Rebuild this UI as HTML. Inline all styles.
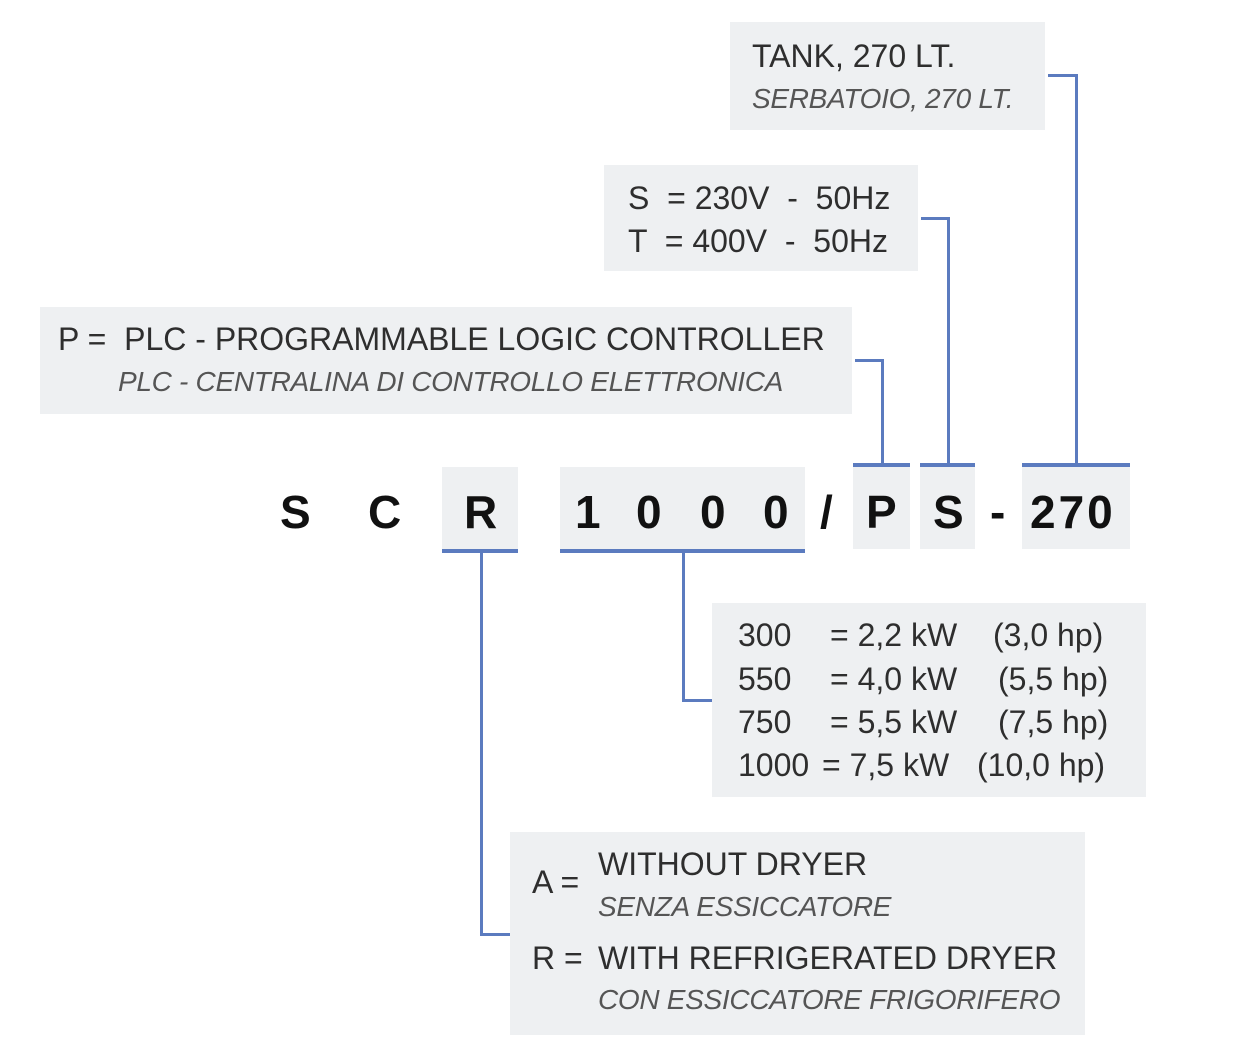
<!DOCTYPE html>
<html><head><meta charset="utf-8"><style>
body{margin:0;width:1260px;height:1060px;background:#fff;position:relative;overflow:hidden;font-family:"Liberation Sans",sans-serif;}
.b{position:absolute;background:#eef0f2;}
.t{position:absolute;white-space:pre;color:#2e2e2e;font-size:32px;letter-spacing:0;line-height:1;}
.i{font-style:italic;color:#555;font-size:28px;letter-spacing:-0.3px;}
.L{position:absolute;background:#5b7bbf;}
.big{position:absolute;font-size:46px;color:#111;line-height:1;font-weight:bold;letter-spacing:1px;}
</style></head><body>
<div class="b" style="left:730px;top:22px;width:315px;height:108px"></div>
<div class="b" style="left:604px;top:165px;width:314px;height:106px"></div>
<div class="b" style="left:40px;top:307px;width:812px;height:107px"></div>
<div class="b" style="left:442px;top:467px;width:76px;height:82px"></div>
<div class="b" style="left:560px;top:467px;width:245px;height:82px"></div>
<div class="b" style="left:853px;top:467px;width:57px;height:82px"></div>
<div class="b" style="left:920px;top:467px;width:55px;height:82px"></div>
<div class="b" style="left:1022px;top:467px;width:108px;height:82px"></div>
<div class="b" style="left:712px;top:603px;width:434px;height:194px"></div>
<div class="b" style="left:510px;top:832px;width:575px;height:203px"></div>
<div class="L" style="left:1048px;top:74px;width:30px;height:3px"></div>
<div class="L" style="left:1075px;top:74px;width:3px;height:392px"></div>
<div class="L" style="left:921px;top:217px;width:29px;height:3px"></div>
<div class="L" style="left:947px;top:217px;width:3px;height:249px"></div>
<div class="L" style="left:855px;top:359px;width:29px;height:3px"></div>
<div class="L" style="left:881px;top:359px;width:3px;height:107px"></div>
<div class="L" style="left:853px;top:463px;width:57px;height:4px"></div>
<div class="L" style="left:920px;top:463px;width:55px;height:4px"></div>
<div class="L" style="left:1022px;top:463px;width:108px;height:4px"></div>
<div class="L" style="left:442px;top:549px;width:76px;height:4px"></div>
<div class="L" style="left:560px;top:549px;width:245px;height:4px"></div>
<div class="L" style="left:480px;top:552px;width:3px;height:384px"></div>
<div class="L" style="left:480px;top:933px;width:30px;height:3px"></div>
<div class="L" style="left:682px;top:552px;width:3px;height:150px"></div>
<div class="L" style="left:682px;top:699px;width:30px;height:3px"></div>
<div class="t" style="left:752px;top:40px">TANK, 270 LT.</div>
<div class="t i" style="left:752px;top:85px">SERBATOIO, 270 LT.</div>
<div class="t" style="left:628px;top:182px">S  = 230V  -  50Hz</div>
<div class="t" style="left:628px;top:225px">T  = 400V  -  50Hz</div>
<div class="t" style="left:58px;top:323px">P =  PLC - PROGRAMMABLE LOGIC CONTROLLER</div>
<div class="t i" style="left:118px;top:368px">PLC - CENTRALINA DI CONTROLLO ELETTRONICA</div>
<div class="big" style="left:280px;top:489px">S</div>
<div class="big" style="left:368px;top:489px">C</div>
<div class="big" style="left:464px;top:489px">R</div>
<div class="big" style="left:575px;top:489px">1</div>
<div class="big" style="left:636px;top:489px">0</div>
<div class="big" style="left:700px;top:489px">0</div>
<div class="big" style="left:763px;top:489px">0</div>
<div class="big" style="left:820px;top:489px">/</div>
<div class="big" style="left:866px;top:489px">P</div>
<div class="big" style="left:933px;top:489px">S</div>
<div class="big" style="left:990px;top:489px">-</div>
<div class="big" style="left:1030px;top:489px;letter-spacing:3px">270</div>
<div class="t" style="left:738px;top:619px">300</div><div class="t" style="left:830px;top:619px">= 2,2 kW</div><div class="t" style="left:993px;top:619px">(3,0 hp)</div>
<div class="t" style="left:738px;top:663px">550</div><div class="t" style="left:830px;top:663px">= 4,0 kW</div><div class="t" style="left:998px;top:663px">(5,5 hp)</div>
<div class="t" style="left:738px;top:706px">750</div><div class="t" style="left:830px;top:706px">= 5,5 kW</div><div class="t" style="left:998px;top:706px">(7,5 hp)</div>
<div class="t" style="left:738px;top:749px">1000</div><div class="t" style="left:822px;top:749px">= 7,5 kW</div><div class="t" style="left:977px;top:749px">(10,0 hp)</div>
<div class="t" style="left:532px;top:866px">A =</div>
<div class="t" style="left:598px;top:848px">WITHOUT DRYER</div>
<div class="t i" style="left:598px;top:893px">SENZA ESSICCATORE</div>
<div class="t" style="left:532px;top:942px">R =</div>
<div class="t" style="left:598px;top:942px">WITH REFRIGERATED DRYER</div>
<div class="t i" style="left:598px;top:986px">CON ESSICCATORE FRIGORIFERO</div>
</body></html>
